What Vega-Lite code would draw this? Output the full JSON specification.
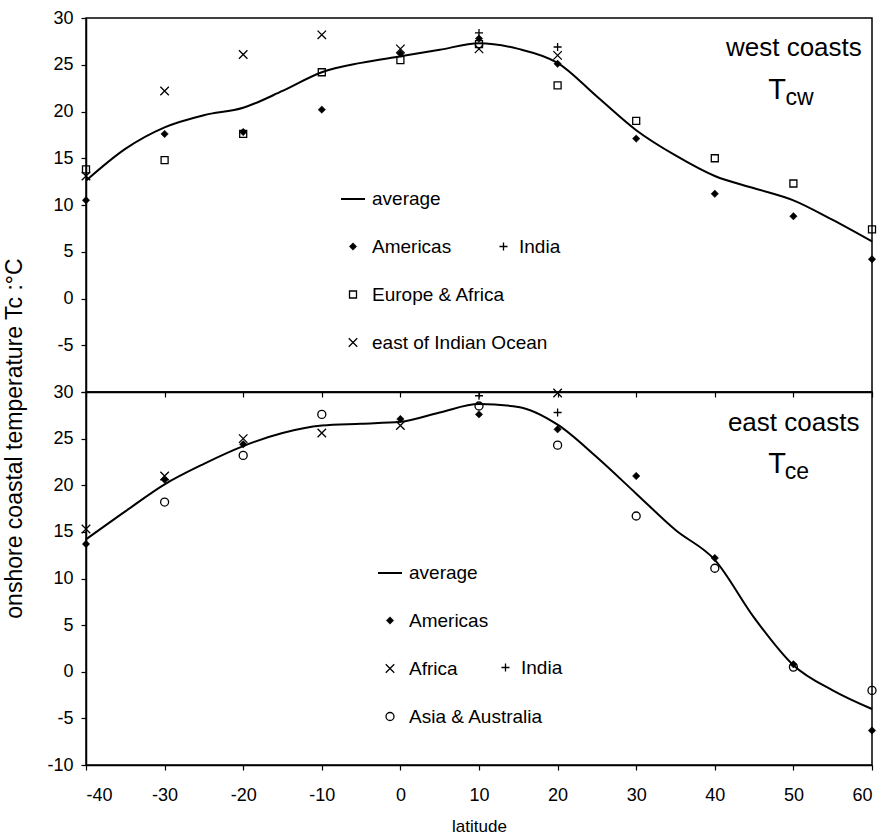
{
  "$schema": "https://vega.github.io/schema/vega-lite/v6.json",
  "padding": {"left": 3, "top": 8, "right": 0, "bottom": 2},
  "bounds": "flush",
  "spacing": 0,
  "config": {
    "font": "Liberation Sans",
    "view": {"stroke": "black", "strokeWidth": 1.5},
    "axis": {"grid": false, "domainColor": "black", "domainWidth": 1.5, "tickColor": "black", "tickWidth": 1.2, "tickSize": 5, "labelColor": "black", "titleColor": "black", "labelFont": "Liberation Sans", "titleFont": "Liberation Sans", "labelFontSize": 18, "titleFontWeight": "normal"},
    "legend": {"labelFont": "Liberation Sans", "labelFontSize": 19, "labelColor": "black", "symbolOpacity": 1, "padding": 0, "labelLimit": 400, "title": null, "orient": "none", "rowPadding": 28, "labelOffset": 6}
  },
  "datasets": {
    "west": [
      {"lat": -40, "temp": 12.6, "series": "average"}, {"lat": -35, "temp": 16.0, "series": "average"}, {"lat": -30, "temp": 18.3, "series": "average"}, {"lat": -25, "temp": 19.6, "series": "average"}, {"lat": -20, "temp": 20.4, "series": "average"}, {"lat": -15, "temp": 22.2, "series": "average"}, {"lat": -10, "temp": 24.2, "series": "average"}, {"lat": -5, "temp": 25.2, "series": "average"}, {"lat": 0, "temp": 25.9, "series": "average"}, {"lat": 5, "temp": 26.6, "series": "average"}, {"lat": 10, "temp": 27.3, "series": "average"}, {"lat": 15, "temp": 26.7, "series": "average"}, {"lat": 20, "temp": 25.2, "series": "average"}, {"lat": 25, "temp": 21.6, "series": "average"}, {"lat": 30, "temp": 18.0, "series": "average"}, {"lat": 35, "temp": 15.3, "series": "average"}, {"lat": 40, "temp": 13.1, "series": "average"}, {"lat": 45, "temp": 11.8, "series": "average"}, {"lat": 50, "temp": 10.5, "series": "average"}, {"lat": 55, "temp": 8.4, "series": "average"}, {"lat": 60, "temp": 6.1, "series": "average"},
      {"lat": -40, "temp": 10.5, "series": "Americas"}, {"lat": -30, "temp": 17.6, "series": "Americas"}, {"lat": -20, "temp": 17.8, "series": "Americas"}, {"lat": -10, "temp": 20.2, "series": "Americas"}, {"lat": 0, "temp": 26.2, "series": "Americas"}, {"lat": 10, "temp": 27.8, "series": "Americas"}, {"lat": 20, "temp": 25.1, "series": "Americas"}, {"lat": 30, "temp": 17.1, "series": "Americas"}, {"lat": 40, "temp": 11.2, "series": "Americas"}, {"lat": 50, "temp": 8.8, "series": "Americas"}, {"lat": 60, "temp": 4.2, "series": "Americas"},
      {"lat": 10, "temp": 28.4, "series": "India"}, {"lat": 20, "temp": 26.9, "series": "India"},
      {"lat": -40, "temp": 13.8, "series": "Europe & Africa"}, {"lat": -30, "temp": 14.8, "series": "Europe & Africa"}, {"lat": -20, "temp": 17.6, "series": "Europe & Africa"}, {"lat": -10, "temp": 24.2, "series": "Europe & Africa"}, {"lat": 0, "temp": 25.5, "series": "Europe & Africa"}, {"lat": 10, "temp": 27.2, "series": "Europe & Africa"}, {"lat": 20, "temp": 22.8, "series": "Europe & Africa"}, {"lat": 30, "temp": 19.0, "series": "Europe & Africa"}, {"lat": 40, "temp": 15.0, "series": "Europe & Africa"}, {"lat": 50, "temp": 12.3, "series": "Europe & Africa"}, {"lat": 60, "temp": 7.4, "series": "Europe & Africa"},
      {"lat": -40, "temp": 13.1, "series": "east of Indian Ocean"}, {"lat": -30, "temp": 22.2, "series": "east of Indian Ocean"}, {"lat": -20, "temp": 26.1, "series": "east of Indian Ocean"}, {"lat": -10, "temp": 28.2, "series": "east of Indian Ocean"}, {"lat": 0, "temp": 26.7, "series": "east of Indian Ocean"}, {"lat": 10, "temp": 26.7, "series": "east of Indian Ocean"}, {"lat": 20, "temp": 26.0, "series": "east of Indian Ocean"}
    ],
    "east": [
      {"lat": -40, "temp": 14.2, "series": "average"}, {"lat": -35, "temp": 17.2, "series": "average"}, {"lat": -30, "temp": 20.1, "series": "average"}, {"lat": -25, "temp": 22.3, "series": "average"}, {"lat": -20, "temp": 24.2, "series": "average"}, {"lat": -15, "temp": 25.6, "series": "average"}, {"lat": -10, "temp": 26.4, "series": "average"}, {"lat": -5, "temp": 26.6, "series": "average"}, {"lat": 0, "temp": 26.8, "series": "average"}, {"lat": 5, "temp": 27.8, "series": "average"}, {"lat": 10, "temp": 28.7, "series": "average"}, {"lat": 15, "temp": 28.4, "series": "average"}, {"lat": 20, "temp": 26.5, "series": "average"}, {"lat": 25, "temp": 23.0, "series": "average"}, {"lat": 30, "temp": 19.1, "series": "average"}, {"lat": 35, "temp": 15.2, "series": "average"}, {"lat": 40, "temp": 12.0, "series": "average"}, {"lat": 45, "temp": 5.8, "series": "average"}, {"lat": 50, "temp": 0.7, "series": "average"}, {"lat": 55, "temp": -2.0, "series": "average"}, {"lat": 60, "temp": -4.0, "series": "average"},
      {"lat": -40, "temp": 13.7, "series": "Americas"}, {"lat": -30, "temp": 20.6, "series": "Americas"}, {"lat": -20, "temp": 24.4, "series": "Americas"}, {"lat": 0, "temp": 27.1, "series": "Americas"}, {"lat": 10, "temp": 27.6, "series": "Americas"}, {"lat": 20, "temp": 26.0, "series": "Americas"}, {"lat": 30, "temp": 21.0, "series": "Americas"}, {"lat": 40, "temp": 12.2, "series": "Americas"}, {"lat": 50, "temp": 0.8, "series": "Americas"}, {"lat": 60, "temp": -6.3, "series": "Americas"},
      {"lat": -40, "temp": 15.3, "series": "Africa"}, {"lat": -30, "temp": 21.0, "series": "Africa"}, {"lat": -20, "temp": 25.0, "series": "Africa"}, {"lat": -10, "temp": 25.6, "series": "Africa"}, {"lat": 0, "temp": 26.4, "series": "Africa"}, {"lat": 20, "temp": 29.9, "series": "Africa"},
      {"lat": 10, "temp": 29.6, "series": "India"}, {"lat": 20, "temp": 27.8, "series": "India"},
      {"lat": -30, "temp": 18.2, "series": "Asia & Australia"}, {"lat": -20, "temp": 23.2, "series": "Asia & Australia"}, {"lat": -10, "temp": 27.6, "series": "Asia & Australia"}, {"lat": 10, "temp": 28.5, "series": "Asia & Australia"}, {"lat": 20, "temp": 24.3, "series": "Asia & Australia"}, {"lat": 30, "temp": 16.7, "series": "Asia & Australia"}, {"lat": 40, "temp": 11.1, "series": "Asia & Australia"}, {"lat": 50, "temp": 0.5, "series": "Asia & Australia"}, {"lat": 60, "temp": -2.0, "series": "Asia & Australia"}
    ]
  },
  "vconcat": [
    {
      "width": 786,
      "height": 374,
      "data": {"name": "west"},
      "layer": [
        {
          "transform": [{"filter": "datum.series == 'average'"}],
          "mark": {"type": "line", "interpolate": "monotone", "color": "black", "strokeWidth": 2},
          "encoding": {
            "x": {"field": "lat", "type": "quantitative", "scale": {"domain": [-40, 60], "nice": false}, "axis": {"values": [-40, -30, -20, -10, 0, 10, 20, 30, 40, 50, 60], "labels": false, "title": null}},
            "y": {"field": "temp", "type": "quantitative", "scale": {"domain": [-10, 30], "nice": false}, "axis": {"values": [-10, -5, 0, 5, 10, 15, 20, 25, 30], "title": null, "labelPadding": 8, "labelExpr": "datum.value == -10 ? '' : replace(datum.label, '\u2212', '-')"}}
          }
        },
        {
          "transform": [{"filter": "datum.series != 'average' && datum.series != 'India'"}],
          "mark": {"type": "point", "opacity": 1},
          "encoding": {
            "x": {"field": "lat", "type": "quantitative"},
            "y": {"field": "temp", "type": "quantitative"},
            "shape": {"field": "series", "type": "nominal", "scale": {"type": "ordinal", "domain": ["average", "Americas", "Europe & Africa", "east of Indian Ocean"], "range": ["stroke", "diamond", "square", "M-1,-1L1,1M1,-1L-1,1"]}, "legend": {"legendX": 254, "legendY": 168}},
            "fill": {"field": "series", "type": "nominal", "scale": {"type": "ordinal", "domain": ["average", "Americas", "Europe & Africa", "east of Indian Ocean"], "range": ["transparent", "black", "transparent", "transparent"]}, "legend": {"legendX": 254, "legendY": 168}},
            "stroke": {"field": "series", "type": "nominal", "scale": {"type": "ordinal", "domain": ["average", "Americas", "Europe & Africa", "east of Indian Ocean"], "range": ["black", "black", "black", "black"]}, "legend": {"legendX": 254, "legendY": 168}},
            "size": {"field": "series", "type": "nominal", "scale": {"type": "ordinal", "domain": ["average", "Americas", "Europe & Africa", "east of Indian Ocean"], "range": [576, 55, 49, 72]}, "legend": {"legendX": 254, "legendY": 168}},
            "strokeWidth": {"field": "series", "type": "nominal", "scale": {"type": "ordinal", "domain": ["average", "Americas", "Europe & Africa", "east of Indian Ocean"], "range": [2, 0.5, 1.3, 1.3]}, "legend": {"legendX": 254, "legendY": 168}}
          }
        },
        {
          "transform": [{"filter": "datum.series == 'India'"}],
          "mark": {"type": "point", "opacity": 1, "shape": "M-1,0H1M0,-1V1", "size": 64, "strokeWidth": 1.3},
          "encoding": {
            "x": {"field": "lat", "type": "quantitative"},
            "y": {"field": "temp", "type": "quantitative"},
            "stroke": {"field": "series", "type": "nominal", "scale": {"type": "ordinal", "domain": ["India"], "range": ["black"]}, "legend": {"legendX": 408, "legendY": 219, "symbolType": "M-1,0H1M0,-1V1", "symbolSize": 64, "symbolStrokeWidth": 1.3}}
          }
        },
        {
          "data": {"values": [{"k": 1}]},
          "mark": {"type": "text", "align": "right", "baseline": "alphabetic", "fontSize": 26, "font": "Liberation Sans", "color": "black", "text": "west coasts"},
          "encoding": {"x": {"datum": 58.7, "type": "quantitative"}, "y": {"datum": 25.9, "type": "quantitative"}}
        },
        {
          "data": {"values": [{"k": 1}]},
          "mark": {"type": "text", "align": "left", "baseline": "alphabetic", "fontSize": 29, "font": "Liberation Sans", "color": "black", "text": "T"},
          "encoding": {"x": {"datum": 46.8, "type": "quantitative"}, "y": {"datum": 21.3, "type": "quantitative"}}
        },
        {
          "data": {"values": [{"k": 1}]},
          "mark": {"type": "text", "align": "left", "baseline": "alphabetic", "fontSize": 23, "font": "Liberation Sans", "color": "black", "text": "cw"},
          "encoding": {"x": {"datum": 49.0, "type": "quantitative"}, "y": {"datum": 20.7, "type": "quantitative"}}
        }
      ],
      "resolve": {
        "scale": {"shape": "independent", "fill": "independent", "stroke": "independent", "size": "independent", "strokeWidth": "independent"},
        "legend": {"shape": "independent", "fill": "independent", "stroke": "independent", "size": "independent", "strokeWidth": "independent"}
      }
    },
    {
      "width": 786,
      "height": 373,
      "data": {"name": "east"},
      "layer": [
        {
          "transform": [{"filter": "datum.series == 'average'"}],
          "mark": {"type": "line", "interpolate": "monotone", "color": "black", "strokeWidth": 2},
          "encoding": {
            "x": {"field": "lat", "type": "quantitative", "scale": {"domain": [-40, 60], "nice": false}, "axis": {"values": [-40, -30, -20, -10, 0, 10, 20, 30, 40, 50, 60], "title": "latitude", "titleFontSize": 17, "labelPadding": 16, "titlePadding": 14, "labelExpr": "replace(datum.label, '\u2212', '-')"}},
            "y": {"field": "temp", "type": "quantitative", "scale": {"domain": [-10, 30], "nice": false}, "axis": {"values": [-10, -5, 0, 5, 10, 15, 20, 25, 30], "title": "onshore coastal temperature Tc :°C", "titleFontSize": 23, "titleY": 46, "labelPadding": 8, "titlePadding": 20, "labelExpr": "replace(datum.label, '\u2212', '-')"}}
          }
        },
        {
          "transform": [{"filter": "datum.series != 'average' && datum.series != 'India'"}],
          "mark": {"type": "point", "opacity": 1},
          "encoding": {
            "x": {"field": "lat", "type": "quantitative"},
            "y": {"field": "temp", "type": "quantitative"},
            "shape": {"field": "series", "type": "nominal", "scale": {"type": "ordinal", "domain": ["average", "Americas", "Africa", "Asia & Australia"], "range": ["stroke", "diamond", "M-1,-1L1,1M1,-1L-1,1", "circle"]}, "legend": {"legendX": 291, "legendY": 168}},
            "fill": {"field": "series", "type": "nominal", "scale": {"type": "ordinal", "domain": ["average", "Americas", "Africa", "Asia & Australia"], "range": ["transparent", "black", "transparent", "transparent"]}, "legend": {"legendX": 291, "legendY": 168}},
            "stroke": {"field": "series", "type": "nominal", "scale": {"type": "ordinal", "domain": ["average", "Americas", "Africa", "Asia & Australia"], "range": ["black", "black", "black", "black"]}, "legend": {"legendX": 291, "legendY": 168}},
            "size": {"field": "series", "type": "nominal", "scale": {"type": "ordinal", "domain": ["average", "Americas", "Africa", "Asia & Australia"], "range": [576, 55, 72, 64]}, "legend": {"legendX": 291, "legendY": 168}},
            "strokeWidth": {"field": "series", "type": "nominal", "scale": {"type": "ordinal", "domain": ["average", "Americas", "Africa", "Asia & Australia"], "range": [2, 0.5, 1.3, 1.3]}, "legend": {"legendX": 291, "legendY": 168}}
          }
        },
        {
          "transform": [{"filter": "datum.series == 'India'"}],
          "mark": {"type": "point", "opacity": 1, "shape": "M-1,0H1M0,-1V1", "size": 64, "strokeWidth": 1.3},
          "encoding": {
            "x": {"field": "lat", "type": "quantitative"},
            "y": {"field": "temp", "type": "quantitative"},
            "stroke": {"field": "series", "type": "nominal", "scale": {"type": "ordinal", "domain": ["India"], "range": ["black"]}, "legend": {"legendX": 410, "legendY": 266, "symbolType": "M-1,0H1M0,-1V1", "symbolSize": 64, "symbolStrokeWidth": 1.3}}
          }
        },
        {
          "data": {"values": [{"k": 1}]},
          "mark": {"type": "text", "align": "right", "baseline": "alphabetic", "fontSize": 26, "font": "Liberation Sans", "color": "black", "text": "east coasts"},
          "encoding": {"x": {"datum": 58.4, "type": "quantitative"}, "y": {"datum": 25.8, "type": "quantitative"}}
        },
        {
          "data": {"values": [{"k": 1}]},
          "mark": {"type": "text", "align": "left", "baseline": "alphabetic", "fontSize": 29, "font": "Liberation Sans", "color": "black", "text": "T"},
          "encoding": {"x": {"datum": 46.8, "type": "quantitative"}, "y": {"datum": 21.3, "type": "quantitative"}}
        },
        {
          "data": {"values": [{"k": 1}]},
          "mark": {"type": "text", "align": "left", "baseline": "alphabetic", "fontSize": 23, "font": "Liberation Sans", "color": "black", "text": "ce"},
          "encoding": {"x": {"datum": 48.9, "type": "quantitative"}, "y": {"datum": 20.7, "type": "quantitative"}}
        }
      ],
      "resolve": {
        "scale": {"shape": "independent", "fill": "independent", "stroke": "independent", "size": "independent", "strokeWidth": "independent"},
        "legend": {"shape": "independent", "fill": "independent", "stroke": "independent", "size": "independent", "strokeWidth": "independent"}
      }
    }
  ],
  "resolve": {
    "scale": {"shape": "independent", "fill": "independent", "stroke": "independent", "size": "independent", "strokeWidth": "independent"},
    "legend": {"shape": "independent", "fill": "independent", "stroke": "independent", "size": "independent", "strokeWidth": "independent"}
  }
}
